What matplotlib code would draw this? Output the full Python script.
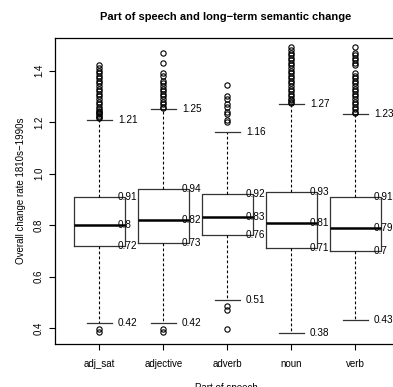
import matplotlib
matplotlib.use("Agg")
import matplotlib.pyplot as plt

plt.rcParams['font.family'] = ['Liberation Sans', 'DejaVu Sans']

# parts of speech and five-number summaries (rounded as labelled)
pos_names = ["adj_sat", "adjective", "adverb", "noun", "verb"]
whisk_lo = [0.42, 0.42, 0.51, 0.38, 0.43]
q1 = [0.72, 0.73, 0.76, 0.71, 0.70]
med = [0.80, 0.82, 0.83, 0.81, 0.79]
q3 = [0.91, 0.94, 0.92, 0.93, 0.91]
whisk_hi = [1.21, 1.25, 1.16, 1.27, 1.23]

# outliers (approximate)
fliers = [
    [0.385, 0.395, 1.215, 1.22, 1.225, 1.23, 1.235, 1.24, 1.245, 1.25, 1.26,
     1.27, 1.28, 1.29, 1.30, 1.31, 1.32, 1.33, 1.34, 1.35, 1.36, 1.37,
     1.38, 1.39, 1.40, 1.41, 1.42],
    [0.385, 0.395, 1.255, 1.26, 1.27, 1.28, 1.29, 1.30, 1.31, 1.32, 1.33,
     1.34, 1.35, 1.36, 1.38, 1.39, 1.43, 1.47],
    [0.396, 0.47, 0.485, 1.20, 1.21, 1.23, 1.24, 1.26, 1.27, 1.29, 1.30,
     1.345],
    [1.275, 1.28, 1.285, 1.29, 1.30, 1.31, 1.32, 1.33, 1.34, 1.35, 1.36,
     1.37, 1.38, 1.39, 1.40, 1.41, 1.42, 1.43, 1.44, 1.45, 1.46, 1.47,
     1.48, 1.49],
    [1.235, 1.24, 1.25, 1.26, 1.27, 1.28, 1.29, 1.30, 1.31, 1.32, 1.33,
     1.34, 1.35, 1.36, 1.37, 1.38, 1.39, 1.42, 1.43, 1.44, 1.45, 1.46,
     1.47, 1.49],
]

stats = []
for i in range(len(pos_names)):
    stats.append({
        "label": pos_names[i], "whislo": whisk_lo[i], "q1": q1[i],
        "med": med[i], "q3": q3[i], "whishi": whisk_hi[i],
        "fliers": fliers[i],
    })

fig = plt.figure(figsize=(3.93, 3.87), dpi=100)
ax = fig.add_axes([0.140, 0.111, 0.87, 0.791])

positions = list(range(1, len(pos_names) + 1))
ax.bxp(stats, positions=positions, widths=0.8, capwidths=0.4,
       boxprops=dict(color="#333333", linewidth=0.9),
       medianprops=dict(color="black", linewidth=1.8),
       whiskerprops=dict(color="black", linewidth=0.8, linestyle=(0, (2.5, 2))),
       capprops=dict(color="#333333", linewidth=0.9),
       flierprops=dict(marker="o", markerfacecolor="none",
                       markeredgecolor="black", markersize=3.8,
                       markeredgewidth=0.8))

def fmt(v):
    return f"{round(v, 2):g}"

for i, p in enumerate(positions):
    for v in (whisk_lo[i], q1[i], med[i], q3[i], whisk_hi[i]):
        ax.text(p + 0.29, v, fmt(v), ha="left", va="center", fontsize=7.2)

ax.set_xlim(0.305, 5.648)
ax.set_ylim(0.338, 1.527)
ax.set_yticks([0.4, 0.6, 0.8, 1.0, 1.2, 1.4])
ax.set_yticklabels(["0.4", "0.6", "0.8", "1.0", "1.2", "1.4"],
                   rotation=90, va="center")
ax.set_xticks(positions)
ax.set_xticklabels(pos_names)
ax.tick_params(labelsize=7, length=4, width=0.8)
ax.tick_params(axis="y", pad=4)
ax.tick_params(axis="x", pad=7)
for s in ax.spines.values():
    s.set_linewidth(0.9)
ax.spines["right"].set_visible(False)

ax.set_ylabel("Overall change rate 1810s\u22121990s", fontsize=7, labelpad=6)
ax.set_xlabel("Part of speech", fontsize=7, labelpad=10)
ax.set_title("Part of speech and long\u2212term semantic change",
             fontsize=8, fontweight="bold", pad=13)

fig.savefig("out.png", dpi=100)
